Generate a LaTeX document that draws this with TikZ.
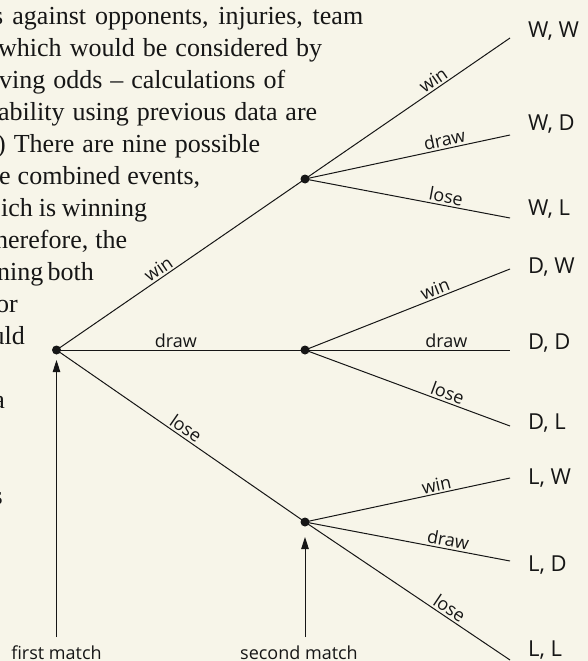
\documentclass[tikz,border=0pt]{standalone}
\usepackage{fontspec}
\setmainfont{Liberation Serif}
\setsansfont{Open Sans}
\usetikzlibrary{arrows.meta}
\definecolor{paper}{RGB}{247,245,233}
\definecolor{ink}{RGB}{22,22,22}

\begin{document}
\begin{tikzpicture}[x=1pt,y=-1pt,
    branch/.style={draw=ink,line width=1pt},
    blab/.style={font=\sffamily\fontsize{18}{20}\selectfont,text=ink,sloped,above,inner sep=2pt},
    leaf/.style={font=\sffamily\fontsize{22}{24}\selectfont,text=ink,anchor=base west,inner sep=0pt},
    axislab/.style={font=\sffamily\fontsize{18}{20}\selectfont,text=ink,anchor=base,inner sep=0pt},
    bodytext/.style={font=\fontsize{26}{32}\selectfont,text=ink,inner sep=0pt},
    lead/.style={draw=ink,line width=1pt,-{Triangle[length=12pt,width=7.5pt]}}]
  \useasboundingbox (0,0) rectangle (588,661);
  \fill[paper] (0,0) rectangle (588,661);
  \clip (0,0) rectangle (588,661);
  % paragraph running round the tree (justified lines)
  \foreach \k/\xs/\xe/\txt in {0/-7/363/{s against opponents, injuries, team},
      1/-2/322/{which would be considered by}, 2/-1/285/{ving odds -- calculations of},
      3/-2/317/{ability using previous data are}, 4/-3/260/{) There are nine possible},
      5/-1/200/{e combined events,}, 6/1/147/{ich is winning}, 7/-5/127/{herefore, the},
      8/-3/92/{ning both}}{
    \pgfmathsetmacro{\linew}{\xe-\xs}
    \node[bodytext,anchor=base west] (line\k) at (\xs,24.5+32*\k) {\hbox to \linew pt{\txt}};
  }
  \foreach \k/\xe/\txt in {9/18/or, 10/25/uld, 12/5/a, 15/3/s}
    \node[bodytext,anchor=base east] (line\k) at (\xe,24.5+32*\k) {\txt};
  % tree
  \coordinate (root) at (56.5,350);
  \coordinate (mW) at (305,179);
  \coordinate (mD) at (305,350);
  \coordinate (mL) at (305,522);
  \foreach \n/\y/\lby/\lab in {WW/38/38/{W, W},WD/135/130/{W, D},WL/218/215/{W, L},
      DW/269/273/{D, W},DD/350/349/{D, D},DL/426/429/{D, L},
      LW/478/484/{L, W},LD/561/571/{L, D},LL/660/656/{L, L}}{
    \coordinate (e\n) at (510,\y);
    \node[leaf] (l\n) at (528,\lby) {\lab};
  }
  \draw[branch] (root) -- node[blab,pos=.43] (bW) {win} (mW);
  \draw[branch] (root) -- node[blab,pos=.48] (bD) {draw} (mD);
  \draw[branch] (root) -- node[blab,pos=.5] (bL) {lose} (mL);
  \foreach \m in {W,D,L}{
    \draw[branch] (m\m) -- node[blab,pos=.65] (b\m W) {win} (e\m W);
    \draw[branch] (m\m) -- node[blab,pos=.69] (b\m D) {draw} (e\m D);
    \draw[branch] (m\m) -- node[blab,pos=.68] (b\m L) {lose} (e\m L);
  }
  \foreach \p in {root,mW,mD,mL}
    \fill[ink] (\p) circle (4.5);
  % match pointers
  \node[axislab] (first) at (56.5,659) {first match};
  \node[axislab] (second) at (299,659) {second match};
  \coordinate (tfirst) at (56.5,637);
  \coordinate (tsecond) at (305,637);
  \draw[lead,shorten >=10pt] (tfirst) -- (root);
  \draw[lead,shorten >=15pt] (tsecond) -- (mL);
\end{tikzpicture}
\end{document}
